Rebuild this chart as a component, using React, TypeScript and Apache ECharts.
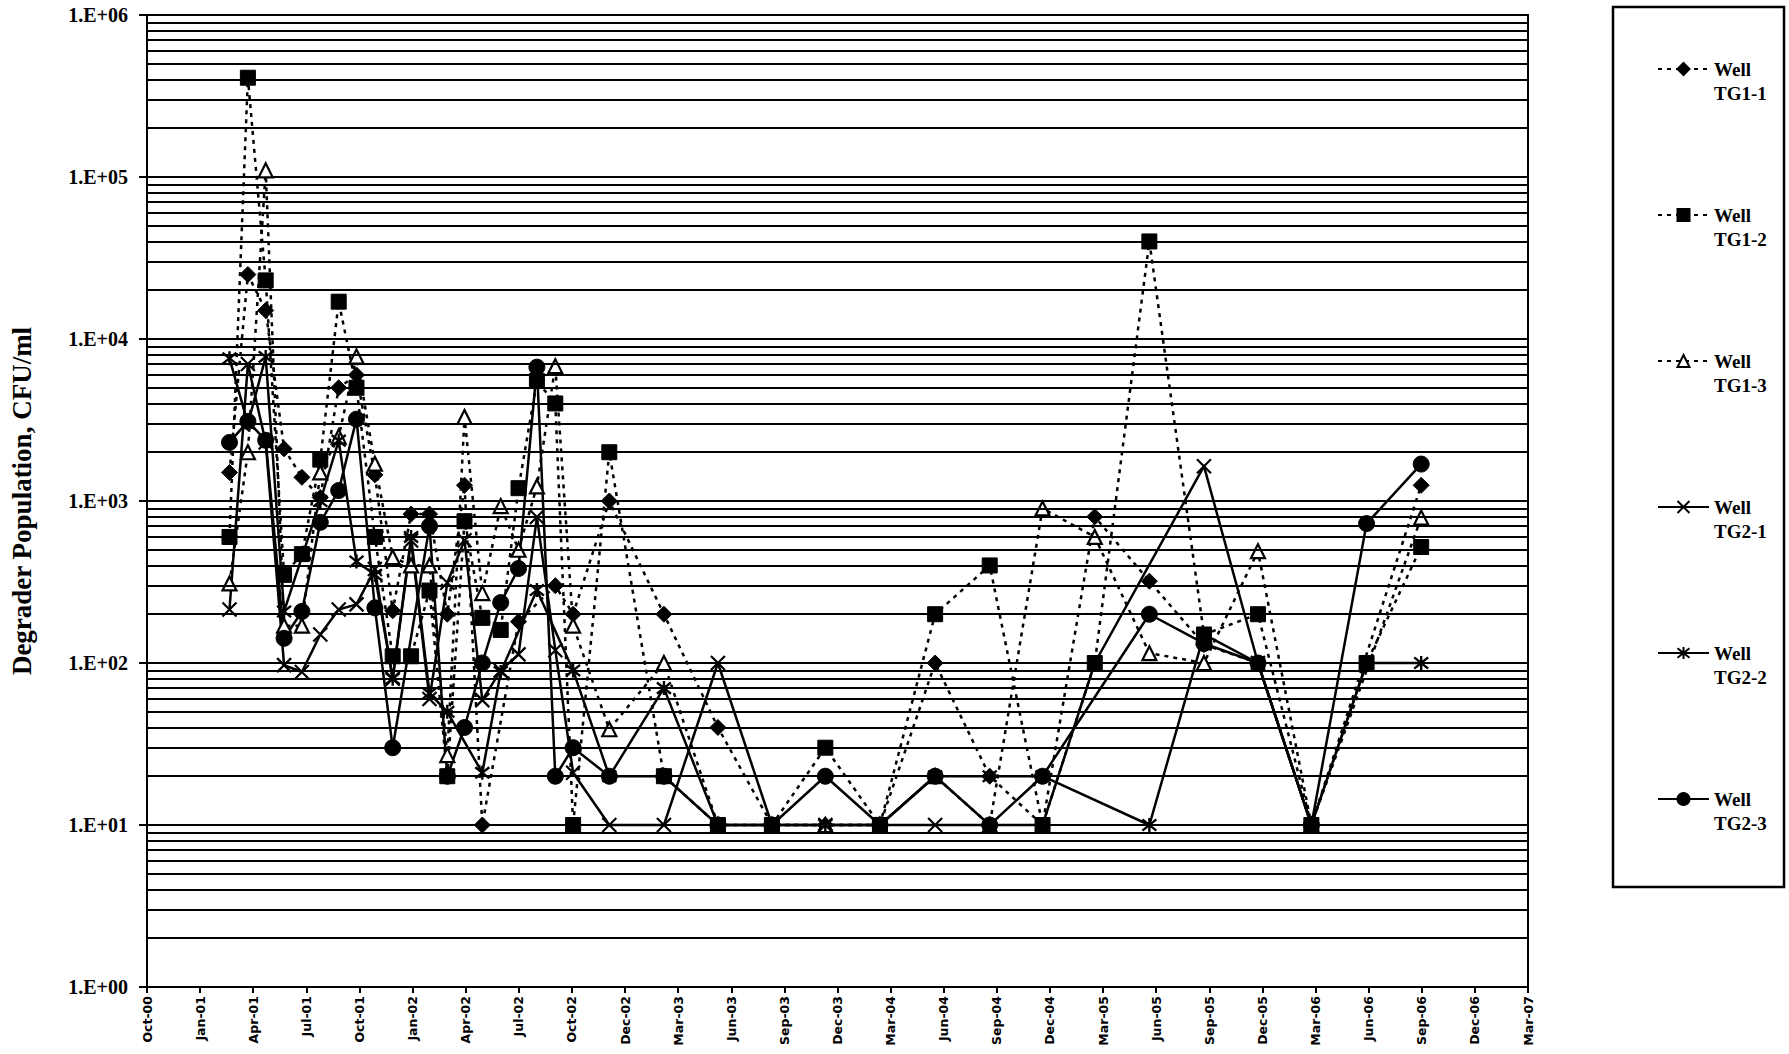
import React, { useEffect, useRef } from "react";
import * as echarts from "echarts";

// ---------- data ----------
const tickLabels = [
  "Oct-00", "Jan-01", "Apr-01", "Jul-01", "Oct-01", "Jan-02", "Apr-02", "Jul-02", "Oct-02",
  "Dec-02", "Mar-03", "Jun-03", "Sep-03", "Dec-03", "Mar-04", "Jun-04", "Sep-04", "Dec-04",
  "Mar-05", "Jun-05", "Sep-05", "Dec-05", "Mar-06", "Jun-06", "Sep-06", "Dec-06", "Mar-07",
];
const yTickLabels = ["1.E+00", "1.E+01", "1.E+02", "1.E+03", "1.E+04", "1.E+05", "1.E+06"];

const sampleDates = [
  "2001-03-04", "2001-04-04", "2001-05-04", "2001-06-04", "2001-07-04", "2001-08-04",
  "2001-09-04", "2001-10-04", "2001-11-04", "2001-12-04", "2002-01-04", "2002-02-04",
  "2002-03-06", "2002-04-04", "2002-05-04", "2002-06-04", "2002-07-04", "2002-08-04",
  "2002-09-04", "2002-10-04", "2002-12-04", "2003-03-06", "2003-06-05", "2003-09-04",
  "2003-12-03", "2004-03-04", "2004-06-05", "2004-09-05", "2004-12-03", "2005-03-01",
  "2005-06-01", "2005-09-01", "2005-12-01", "2006-03-01", "2006-06-02", "2006-09-02",
];

const wellTG1_1 = [1500, 25000, 15000, 2100, 1400, 1050, 5000, 6000, 1450, 210, 830, 830,
  200, 1250, 10, null, 180, null, 300, 200, 1000, 200, 40, 10,
  10, 10, 100, 20, 10, 800, 320, 130, 100, 10, null, 1250];
const wellTG1_2 = [600, 410000, 23000, 350, 470, 1800, 17000, 5000, 600, 110, 110, 280,
  20, 750, 190, 160, 1200, 5500, 4000, 10, 2000, 20, 10, 10,
  30, 10, 200, 400, 10, 100, 40000, 150, 200, 10, 100, 520];
const wellTG1_3 = [310, 2000, 110000, 170, 170, 1500, 2500, 7800, 1700, 450, 400, 400,
  27, 3300, 270, 930, 500, 1230, 6800, 170, 39, 100, 10, 10,
  10, 10, 20, 10, 900, 600, 115, 100, 490, 10, null, 790];
const wellTG2_1 = [214, 7000, 2300, 97, 88, 150, 214, 230, 380, 80, 570, 60,
  313, 573, 59, 90, 113, 796, 120, 21, 10, 10, 100, 10,
  10, 10, 10, null, 10, 100, null, 1640, 100, 10, null, null];
const wellTG2_2 = [7600, 3000, 7750, 208, null, 1000, 2360, 423, 350, 80, 600, 65,
  50, null, 21, 88, null, 282, null, 90, 20, 70, 10, 10,
  10, 10, 20, 20, 20, null, 10, 150, 100, 10, 100, 100];
const wellTG2_3 = [2300, 3100, 2370, 142, 208, 738, 1160, 3200, 219, 30, null, 700,
  20, 40, 100, 236, 383, 6700, 20, 30, 20, 20, 10, 10,
  20, 10, 20, 10, 20, null, 200, 132, 100, 10, 725, 1690];

const seriesNames = ["Well TG1-1", "Well TG1-2", "Well TG1-3", "Well TG2-1", "Well TG2-2", "Well TG2-3"];
const gridMantissas = [2, 3, 4, 5, 6, 7, 8, 9];
const gridDecades = [1, 10, 100, 1000, 10000, 100000];

// ---------- helpers ----------
const ORIGIN = Date.UTC(2000, 9, 16);
const DAY_MS = 86400000;
const TICK_STEP = 89.5;

function dayOffset(s: string): number {
  const [y, m, d] = s.split("-").map(Number);
  return (Date.UTC(y, m - 1, d) - ORIGIN) / DAY_MS;
}
function toPoints(vals: (number | null)[]) {
  const out: [number, number][] = [];
  sampleDates.forEach((d, i) => {
    const v = vals[i];
    if (v != null) out.push([dayOffset(d), v]);
  });
  return out;
}

const X_PATH = "path://M1,1L9,9M9,1L1,9";
const STAR_PATH = "path://M1,1L9,9M9,1L1,9M5,0L5,10";

export default function App() {
  const ref = useRef<HTMLDivElement>(null);

  useEffect(() => {
    if (!ref.current) return;
    const chart = echarts.init(ref.current, undefined, { renderer: "svg" });

    const dotted = { color: "#000", width: 2.5, type: [4, 5] as number[] };
    const solid = { color: "#000", width: 2.5, type: "solid" as const };
    const blackItem = { color: "#000", borderColor: "#000", borderWidth: 1 };

    const minorLines: { yAxis: number }[] = [];
    gridDecades.forEach((d) => gridMantissas.forEach((m) => minorLines.push({ yAxis: m * d })));

    const defs = [
      { name: seriesNames[0], data: wellTG1_1, symbol: "diamond", symbolSize: 16, line: dotted, item: blackItem },
      { name: seriesNames[1], data: wellTG1_2, symbol: "rect", symbolSize: 15, line: dotted, item: blackItem },
      { name: seriesNames[2], data: wellTG1_3, symbol: "triangle", symbolSize: 14, line: dotted, item: { color: "#fff", borderColor: "#000", borderWidth: 2.2 } },
      { name: seriesNames[3], data: wellTG2_1, symbol: X_PATH, symbolSize: 14, line: solid, item: { color: "#000", borderColor: "#000", borderWidth: 2.2 } },
      { name: seriesNames[4], data: wellTG2_2, symbol: STAR_PATH, symbolSize: 14, line: solid, item: { color: "#000", borderColor: "#000", borderWidth: 2.4 } },
      { name: seriesNames[5], data: wellTG2_3, symbol: "circle", symbolSize: 16, line: solid, item: blackItem },
    ];

    const series: any[] = defs.map((d) => ({
      name: d.name,
      type: "line",
      data: toPoints(d.data),
      symbol: d.symbol,
      symbolSize: d.symbolSize,
      showAllSymbol: true,
      lineStyle: d.line,
      itemStyle: d.item,
      z: 3,
    }));
    series.push({
      name: "grid",
      type: "line",
      data: [],
      z: 1,
      silent: true,
      markLine: {
        silent: true,
        symbol: ["none", "none"],
        label: { show: false },
        lineStyle: { color: "#000", width: 2, type: "solid" },
        data: minorLines,
      },
    });

    chart.setOption({
      animation: false,
      backgroundColor: "#fff",
      grid: {
        left: 140, top: 15, right: 261, bottom: 67,
        show: true, borderColor: "#000", borderWidth: 2, backgroundColor: "transparent",
      },
      xAxis: {
        type: "value",
        min: 0,
        max: TICK_STEP * (tickLabels.length - 1),
        interval: TICK_STEP,
        axisLine: { lineStyle: { color: "#000", width: 2 } },
        axisTick: { show: true, length: 6, lineStyle: { color: "#000", width: 2 } },
        splitLine: { show: false },
        axisLabel: {
          rotate: 90,
          margin: 9,
          color: "#000",
          fontFamily: "DejaVu Sans",
          fontWeight: "bold",
          fontSize: 12.5,
          formatter: (v: number) => tickLabels[Math.round(v / TICK_STEP)] ?? "",
        },
      },
      yAxis: {
        type: "log",
        logBase: 10,
        min: 1,
        max: 1000000,
        name: "Degrader Population, CFU/ml",
        nameLocation: "middle",
        nameGap: 112,
        nameRotate: 90,
        nameTextStyle: { fontFamily: "Liberation Serif", fontWeight: "bold", fontSize: 27, color: "#000" },
        axisLine: { show: true, lineStyle: { color: "#000", width: 2 } },
        axisTick: { show: true, length: 8, lineStyle: { color: "#000", width: 2 } },
        splitLine: { show: true, lineStyle: { color: "#000", width: 2 } },
        axisLabel: {
          margin: 19,
          color: "#000",
          fontFamily: "Liberation Serif",
          fontWeight: "bold",
          fontSize: 20,
          formatter: (v: number) => yTickLabels[Math.round(Math.log10(v))] ?? "",
        },
      },
      legend: {
        data: seriesNames,
        orient: "vertical",
        left: 1657,
        top: 33,
        padding: 0,
        itemWidth: 51,
        itemHeight: 15,
        itemGap: 74,
        selectedMode: false,
        formatter: (name: string) => " \n" + name.replace(" ", "\n"),
        textStyle: {
          fontFamily: "Liberation Serif",
          fontWeight: "bold",
          fontSize: 19,
          lineHeight: 24,
          color: "#000",
        },
      },
      graphic: [
        {
          type: "rect",
          shape: { x: 1613, y: 7, width: 171, height: 880 },
          style: { fill: "none", stroke: "#000", lineWidth: 2.5 },
          silent: true,
        },
      ],
      series,
    });

    return () => chart.dispose();
  }, []);

  return (
    <div
      ref={ref}
      style={{ position: "fixed", left: 0, top: 0, width: 1789, height: 1054, background: "#fff" }}
    />
  );
}
